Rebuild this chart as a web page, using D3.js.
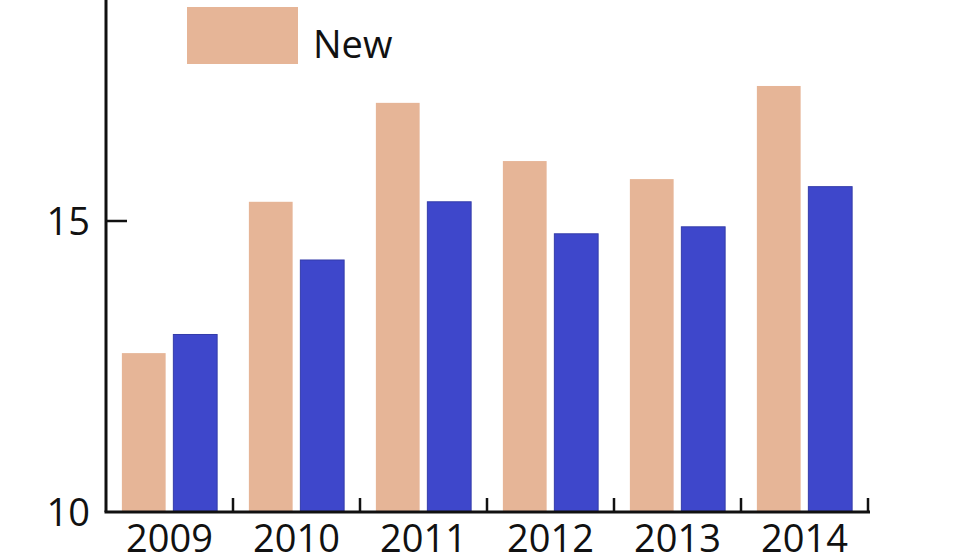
<!DOCTYPE html>
<html>
<head>
<meta charset="utf-8">
<script src="https://cdn.jsdelivr.net/npm/d3@7"></script>
<style>
  body { margin: 0; background: #fff; }
  text { font-family: "Open Sans", sans-serif; fill: #111; }
</style>
</head>
<body>
<div id="chart"></div>
<script>
const svgWidth = 980;
const svgHeight = 552;

// data
const years = ['2009', '2010', '2011', '2012', '2013', '2014'];
const series = ['New', 'Old'];
const newValues = [12.73, 15.33, 17.03, 16.03, 15.72, 17.32];
const oldValues = [13.05, 14.33, 15.33, 14.78, 14.90, 15.59];
const yTicks = [10, 15];

const colors = { New: '#e6b597', Old: '#3e47cb' };

const margin = { top: 0, right: 112, bottom: 40, left: 106 };
const width = svgWidth - margin.left - margin.right;
const height = svgHeight - margin.top - margin.bottom;

const svg = d3.select('#chart')
    .append('svg')
    .attr('width', svgWidth)
    .attr('height', svgHeight);

const chartGroup = svg.append('g')
    .attr('transform', `translate(${margin.left}, ${margin.top})`);

const data = years.map((y, i) => ({ year: y, New: newValues[i], Old: oldValues[i] }));

// scales
const x0 = d3.scaleBand()
    .domain(years)
    .range([0, width])
    .paddingInner(0.25)
    .paddingOuter(0.125);

const x1 = d3.scaleBand()
    .domain(series)
    .range([0, x0.bandwidth()])
    .paddingInner(0.15);

const yScale = d3.scaleLinear()
    .domain([10, 10 + height / 58.2])
    .range([height, 0]);

// bars
const groups = chartGroup.selectAll('.yearGroup')
    .data(data)
    .enter()
    .append('g')
    .attr('class', 'yearGroup')
    .attr('transform', d => `translate(${x0(d.year)}, 0)`);

groups.selectAll('rect')
    .data(d => series.map(s => ({ key: s, value: d[s] })))
    .enter()
    .append('rect')
    .attr('x', d => x1(d.key))
    .attr('y', d => yScale(d.value))
    .attr('width', x1.bandwidth())
    .attr('height', d => yScale(10) - yScale(d.value))
    .attr('fill', d => colors[d.key])
    .attr('stroke', d => d.key === 'Old' ? '#343caa' : 'none')
    .attr('stroke-width', 1);

// axes lines
chartGroup.append('line')
    .attr('x1', 0).attr('x2', 0)
    .attr('y1', 0).attr('y2', height)
    .attr('stroke', '#111').attr('stroke-width', 3);

chartGroup.append('line')
    .attr('x1', -1.5).attr('x2', width + 2)
    .attr('y1', height).attr('y2', height)
    .attr('stroke', '#111').attr('stroke-width', 3);

// x ticks at band boundaries, pointing up
const step = x0.step();
chartGroup.selectAll('.xTick')
    .data(years)
    .enter()
    .append('line')
    .attr('class', 'xTick')
    .attr('x1', d => x0(d) + x0.bandwidth() + step * x0.paddingInner() / 2)
    .attr('x2', d => x0(d) + x0.bandwidth() + step * x0.paddingInner() / 2)
    .attr('y1', height)
    .attr('y2', height - 14)
    .attr('stroke', '#111').attr('stroke-width', 2.5);

// x labels (cut by the bottom edge, as in the original)
chartGroup.selectAll('.xLabel')
    .data(years)
    .enter()
    .append('text')
    .attr('class', 'xLabel')
    .attr('x', d => x0(d) + x0.bandwidth() / 2)
    .attr('y', height + 40)
    .attr('text-anchor', 'middle')
    .style('font-size', '38px')
    .text(d => d);

// y ticks, pointing right
chartGroup.selectAll('.yTick')
    .data(yTicks.filter(t => t !== 10))
    .enter()
    .append('line')
    .attr('x1', 0).attr('x2', 21)
    .attr('y1', d => yScale(d)).attr('y2', d => yScale(d))
    .attr('stroke', '#111').attr('stroke-width', 2.5);

chartGroup.selectAll('.yLabel')
    .data(yTicks)
    .enter()
    .append('text')
    .attr('x', -16)
    .attr('y', d => yScale(d))
    .attr('dy', '0.36em')
    .attr('text-anchor', 'end')
    .style('font-size', '38px')
    .text(d => d);

// legend (only "New" visible)
const legend = svg.append('g')
    .attr('transform', 'translate(187, 7)');

legend.append('rect')
    .attr('width', 111)
    .attr('height', 57)
    .attr('fill', colors.New);

legend.append('text')
    .attr('x', 126)
    .attr('y', 51)
    .style('font-size', '38px')
    .text(series[0]);
</script>
</body>
</html>
